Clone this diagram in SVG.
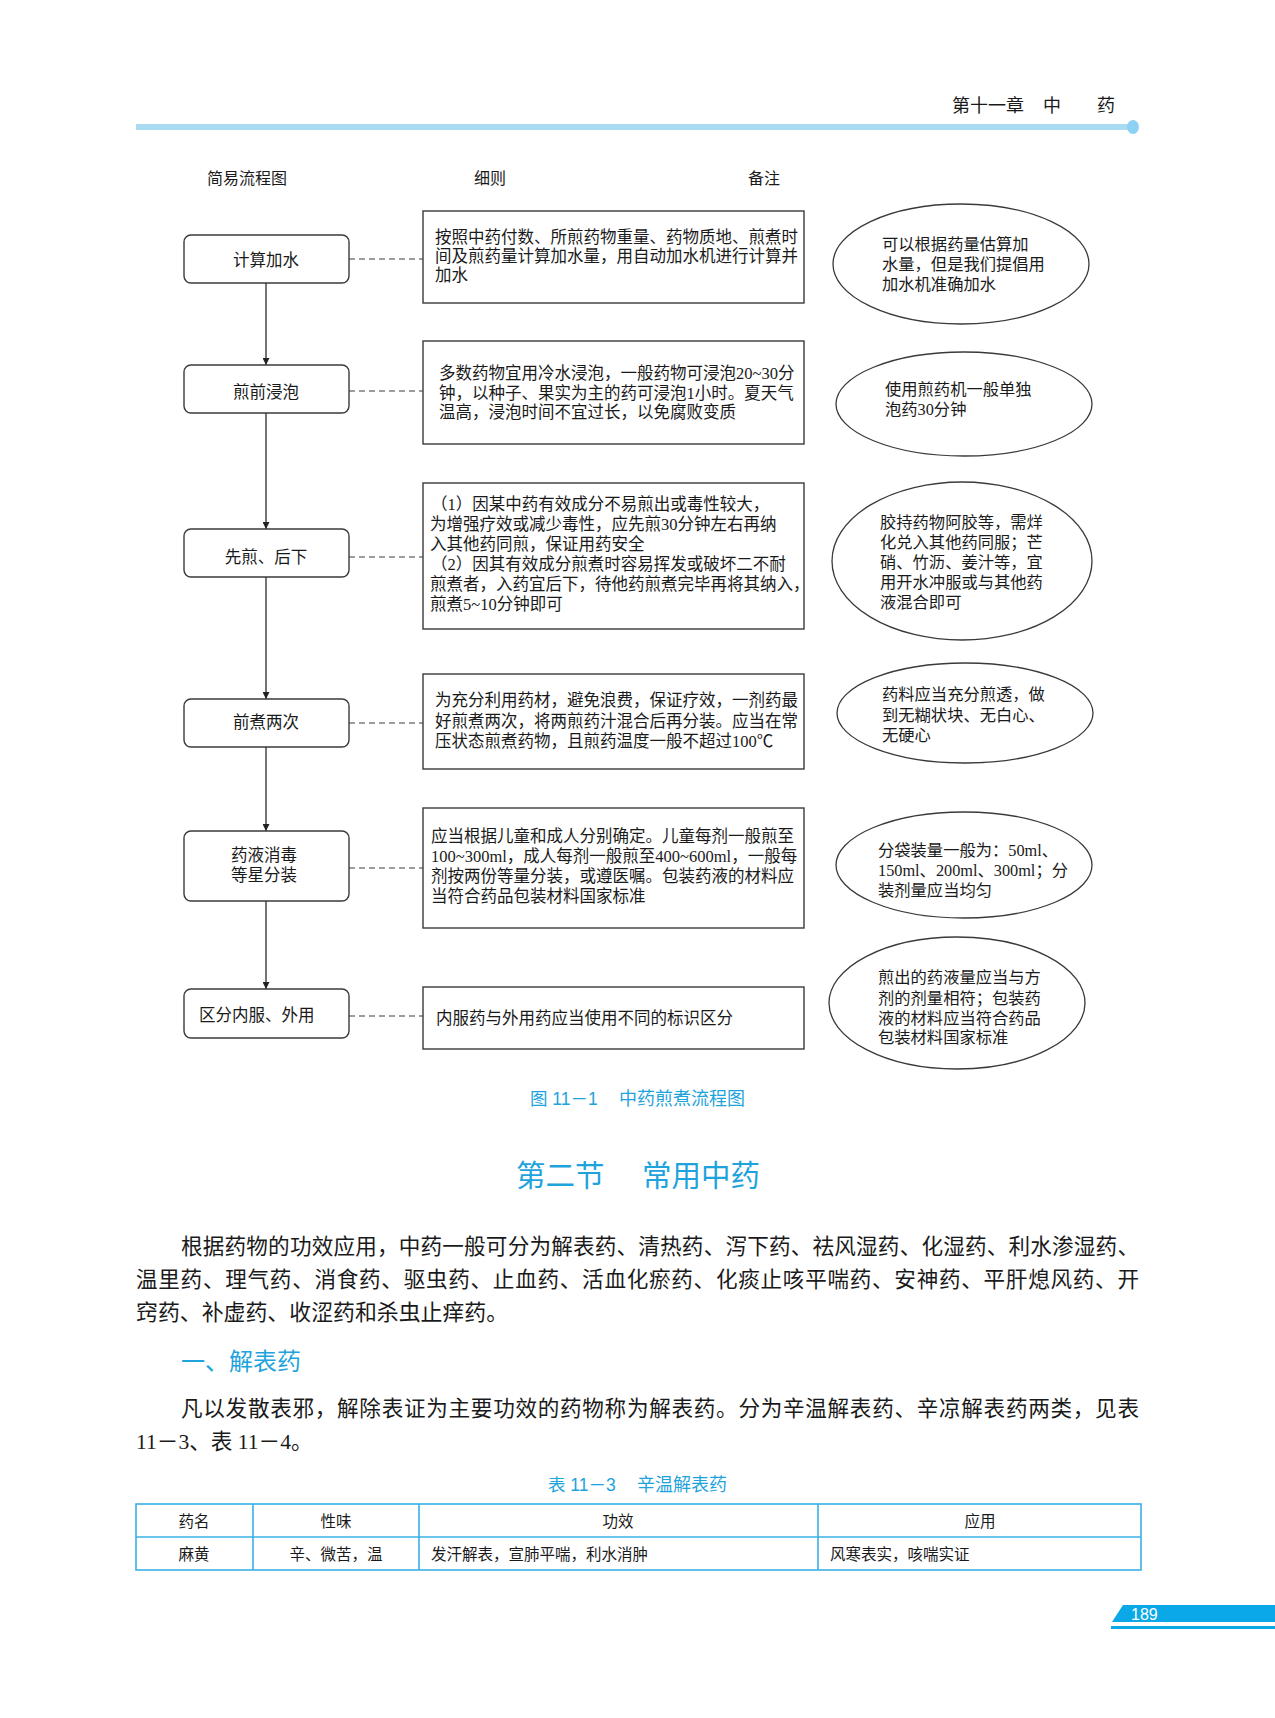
<svg xmlns="http://www.w3.org/2000/svg" width="1275" height="1718" viewBox="0 0 1275 1718">
<style>
text{font-family:"Liberation Serif","Noto Sans CJK SC",serif;fill:#1a1a1a}
.t{font-size:16.5px}
.e{font-size:16.3px}
.lbl{font-size:16.5px;text-anchor:middle}
.hd{font-size:16px}
.box{fill:#fff;stroke:#3a3a3a;stroke-width:1.4}
.ell{fill:#fff;stroke:#3a3a3a;stroke-width:1.3}
.arrow{stroke:#3a3a3a;stroke-width:1.4;fill:none}
.dash{stroke:#3a3a3a;stroke-width:1.2;stroke-dasharray:6 4;fill:none}
.blue{fill:#1ea3dc}
.p{font-size:21.6px}
.tb{font-size:15.5px}
.tbc{font-size:15.5px;text-anchor:middle}
.tline{stroke:#3ab0e6;stroke-width:1.6;fill:none}
</style>
<defs>
<marker id="ah" viewBox="0 0 10 10" refX="10" refY="5" markerWidth="7" markerHeight="7" orient="auto" markerUnits="userSpaceOnUse">
<path d="M0,0 L10,5 L0,10 z" fill="#222"/>
</marker>
</defs>
<rect width="1275" height="1718" fill="#fff"/>

<g id="header">
<text x="952" y="112" style="font-size:18px">第十一章</text>
<text x="1043" y="112" style="font-size:18px">中</text>
<text x="1097" y="112" style="font-size:18px">药</text>
<rect x="136" y="124" width="996" height="6" fill="#a9dcf3"/>
<ellipse cx="1133" cy="127" rx="6" ry="7" fill="#8dd2f2"/>
</g>

<g id="col-headers">
<text class="hd" x="207" y="184">简易流程图</text>
<text class="hd" x="474" y="184">细则</text>
<text class="hd" x="748" y="184">备注</text>
</g>

<g id="connectors">
<line class="arrow" x1="266" y1="283" x2="266" y2="365" marker-end="url(#ah)"/>
<line class="arrow" x1="266" y1="413" x2="266" y2="529" marker-end="url(#ah)"/>
<line class="arrow" x1="266" y1="577" x2="266" y2="699" marker-end="url(#ah)"/>
<line class="arrow" x1="266" y1="747" x2="266" y2="831" marker-end="url(#ah)"/>
<line class="arrow" x1="266" y1="901" x2="266" y2="989" marker-end="url(#ah)"/>
<line class="dash" x1="349" y1="259" x2="423" y2="259"/>
<line class="dash" x1="349" y1="391" x2="423" y2="391"/>
<line class="dash" x1="349" y1="557" x2="423" y2="557"/>
<line class="dash" x1="349" y1="723" x2="423" y2="723"/>
<line class="dash" x1="349" y1="868" x2="423" y2="868"/>
<line class="dash" x1="349" y1="1016" x2="423" y2="1016"/>
</g>

<g id="step1">
<rect class="box" x="184" y="235" width="165" height="48" rx="7"/>
<text class="lbl" x="266" y="266">计算加水</text>
</g>
<g id="step2">
<rect class="box" x="184" y="365" width="165" height="48" rx="7"/>
<text class="lbl" x="266" y="398">煎前浸泡</text>
</g>
<g id="step3">
<rect class="box" x="184" y="529" width="165" height="48" rx="7"/>
<text class="lbl" x="266" y="563">先煎、后下</text>
</g>
<g id="step4">
<rect class="box" x="184" y="699" width="165" height="48" rx="7"/>
<text class="lbl" x="266" y="728">前煮两次</text>
</g>
<g id="step5">
<rect class="box" x="184" y="831" width="165" height="70" rx="7"/>
<text class="lbl" x="264" y="861">药液消毒</text>
<text class="lbl" x="264" y="881">等星分装</text>
</g>
<g id="step6">
<rect class="box" x="184" y="989" width="165" height="49" rx="7"/>
<text class="t" x="199" y="1021">区分内服、外用</text>
</g>

<g id="detail1">
<rect class="box" x="423" y="211" width="381" height="92"/>
<text class="t" x="435" y="243">按照中药付数、所煎药物重量、药物质地、煎煮时</text>
<text class="t" x="435" y="262">间及煎药量计算加水量，用自动加水机进行计算并</text>
<text class="t" x="435" y="281">加水</text>
</g>
<g id="detail2">
<rect class="box" x="423" y="341" width="381" height="103"/>
<text class="t" x="439" y="379">多数药物宜用冷水浸泡，一般药物可浸泡20~30分</text>
<text class="t" x="439" y="399">钟，以种子、果实为主的药可浸泡1小时。夏天气</text>
<text class="t" x="439" y="418">温高，浸泡时间不宜过长，以免腐败变质</text>
</g>
<g id="detail3">
<rect class="box" x="423" y="483" width="381" height="146"/>
<text class="t" x="431" y="510">（1）因某中药有效成分不易煎出或毒性较大，</text>
<text class="t" x="430" y="530">为增强疗效或减少毒性，应先煎30分钟左右再纳</text>
<text class="t" x="430" y="550">入其他药同煎，保证用药安全</text>
<text class="t" x="431" y="570">（2）因其有效成分煎煮时容易挥发或破坏二不耐</text>
<text class="t" x="430" y="590">煎煮者，入药宜后下，待他药煎煮完毕再将其纳入，</text>
<text class="t" x="430" y="610">煎煮5~10分钟即可</text>
</g>
<g id="detail4">
<rect class="box" x="423" y="674" width="381" height="95"/>
<text class="t" x="435" y="706">为充分利用药材，避免浪费，保证疗效，一剂药最</text>
<text class="t" x="435" y="727">好煎煮两次，将两煎药汁混合后再分装。应当在常</text>
<text class="t" x="435" y="747">压状态煎煮药物，且煎药温度一般不超过100℃</text>
</g>
<g id="detail5">
<rect class="box" x="423" y="808" width="381" height="120"/>
<text class="t" x="431" y="842">应当根据儿童和成人分别确定。儿童每剂一般煎至</text>
<text class="t" x="431" y="862">100~300ml，成人每剂一般煎至400~600ml，一般每</text>
<text class="t" x="431" y="882">剂按两份等量分装，或遵医嘱。包装药液的材料应</text>
<text class="t" x="431" y="902">当符合药品包装材料国家标准</text>
</g>
<g id="detail6">
<rect class="box" x="423" y="987" width="381" height="62"/>
<text class="t" x="436" y="1024">内服药与外用药应当使用不同的标识区分</text>
</g>

<g id="note1">
<ellipse class="ell" cx="961" cy="264" rx="128" ry="60"/>
<text class="e" x="882" y="250">可以根据药量估算加</text>
<text class="e" x="882" y="270">水量，但是我们提倡用</text>
<text class="e" x="882" y="290">加水机准确加水</text>
</g>
<g id="note2">
<ellipse class="ell" cx="964" cy="404" rx="128" ry="52"/>
<text class="e" x="885" y="395">使用煎药机一般单独</text>
<text class="e" x="885" y="415">泡药30分钟</text>
</g>
<g id="note3">
<ellipse class="ell" cx="962" cy="561" rx="130" ry="79"/>
<text class="e" x="880" y="528">胶持药物阿胶等，需烊</text>
<text class="e" x="880" y="548">化兑入其他药同服；芒</text>
<text class="e" x="880" y="568">硝、竹沥、姜汁等，宜</text>
<text class="e" x="880" y="588">用开水冲服或与其他药</text>
<text class="e" x="880" y="608">液混合即可</text>
</g>
<g id="note4">
<ellipse class="ell" cx="965" cy="713" rx="128" ry="50"/>
<text class="e" x="882" y="700">药料应当充分煎透，做</text>
<text class="e" x="882" y="721">到无糊状块、无白心、</text>
<text class="e" x="882" y="741">无硬心</text>
</g>
<g id="note5">
<ellipse class="ell" cx="964" cy="865" rx="128" ry="53"/>
<text class="e" x="878" y="856">分袋装量一般为：50ml、</text>
<text class="e" x="878" y="876">150ml、200ml、300ml；分</text>
<text class="e" x="878" y="896">装剂量应当均匀</text>
</g>
<g id="note6">
<ellipse class="ell" cx="957" cy="1003" rx="128" ry="66"/>
<text class="e" x="878" y="983">煎出的药液量应当与方</text>
<text class="e" x="878" y="1004">剂的剂量相符；包装药</text>
<text class="e" x="878" y="1024">液的材料应当符合药品</text>
<text class="e" x="878" y="1043">包装材料国家标准</text>
</g>

<g id="caption">
<text class="blue" x="530" y="1105" style="font-size:17.5px;font-family:'Liberation Sans','Noto Sans CJK SC',sans-serif">图 11－1</text>
<text class="blue" x="619" y="1105" style="font-size:18px;font-family:'Noto Sans CJK SC',sans-serif">中药煎煮流程图</text>
</g>

<g id="body">
<text class="blue" x="516" y="1186" style="font-size:29.5px;font-family:'Noto Sans CJK SC',sans-serif">第二节</text>
<text class="blue" x="642" y="1186" style="font-size:29.5px;font-family:'Noto Sans CJK SC',sans-serif">常用中药</text>
<text class="p" x="181" y="1254" textLength="958" lengthAdjust="spacing">根据药物的功效应用，中药一般可分为解表药、清热药、泻下药、祛风湿药、化湿药、利水渗湿药、</text>
<text class="p" x="136" y="1287" textLength="1003" lengthAdjust="spacing">温里药、理气药、消食药、驱虫药、止血药、活血化瘀药、化痰止咳平喘药、安神药、平肝熄风药、开</text>
<text class="p" x="136" y="1320" style="font-size:21.9px">窍药、补虚药、收涩药和杀虫止痒药。</text>
<text class="blue" x="181" y="1370" style="font-size:24px;font-family:'Noto Sans CJK SC',sans-serif">一、解表药</text>
<text class="p" x="181" y="1416" textLength="958" lengthAdjust="spacing">凡以发散表邪，解除表证为主要功效的药物称为解表药。分为辛温解表药、辛凉解表药两类，见表</text>
<text class="p" x="136" y="1449">11－3、表 11－4。</text>
</g>

<g id="table">
<text class="blue" x="548" y="1491" style="font-size:17.5px;font-family:'Liberation Sans','Noto Sans CJK SC',sans-serif">表 11－3</text>
<text class="blue" x="637" y="1491" style="font-size:18px;font-family:'Noto Sans CJK SC',sans-serif">辛温解表药</text>
<rect class="tline" x="136" y="1504" width="1005" height="66"/>
<line class="tline" x1="136" y1="1537" x2="1141" y2="1537"/>
<line class="tline" x1="253" y1="1504" x2="253" y2="1570"/>
<line class="tline" x1="419" y1="1504" x2="419" y2="1570"/>
<line class="tline" x1="818" y1="1504" x2="818" y2="1570"/>
<text class="tbc" x="194" y="1527">药名</text>
<text class="tbc" x="336" y="1527">性味</text>
<text class="tbc" x="618" y="1527">功效</text>
<text class="tbc" x="980" y="1527">应用</text>
<text class="tbc" x="194" y="1560">麻黄</text>
<text class="tbc" x="336" y="1560">辛、微苦，温</text>
<text class="tb" x="431" y="1560">发汗解表，宣肺平喘，利水消肿</text>
<text class="tb" x="830" y="1560">风寒表实，咳喘实证</text>
</g>

<g id="page-number">
<polygon points="1123,1605 1275,1605 1275,1622 1112,1622" fill="#0aa8e6"/>
<rect x="1111" y="1626" width="164" height="3" fill="#0aa8e6"/>
<text x="1131" y="1620" style="font-size:16px;font-family:'Liberation Sans',sans-serif;fill:#fff">189</text>
</g>
</svg>
